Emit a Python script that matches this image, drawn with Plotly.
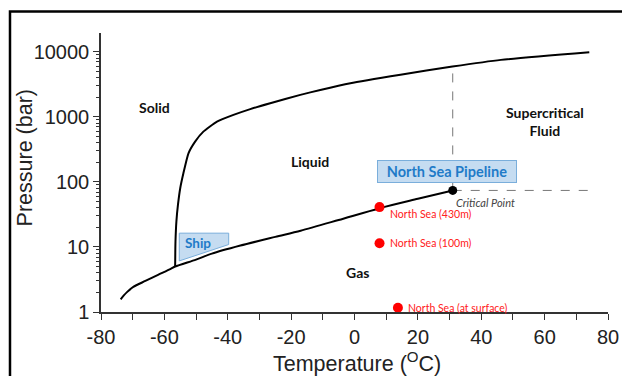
import numpy as np
import plotly.graph_objects as go

# ---- data ----
# sublimation + vaporization curve (T in °C, P in bar)
boil_T = [-73.8, -72.8, -71.8, -70.8, -69.8, -66, -62, -58, -56.6, -50, -45, -36, -25, -17, -5, 8, 20, 31]
boil_P = [1.57, 1.80, 2.02, 2.23, 2.43, 3.0, 3.72, 4.6, 5.0, 6.4, 7.9, 10.5, 14.3, 17.8, 26, 39.5, 55, 74]
# melting curve
melt_T = [-56.6, -56.5, -56.2, -55.7, -55.0, -54.0, -52.4, -50.3, -47.7, -43.4, -38.2, -32.9,
          -26.6, -17.1, -10.8, -1.3, 14.5, 30.9, 46.2, 74.1]
melt_P = [5.0, 12, 25, 45, 80, 136, 276, 417, 594, 847, 1073, 1318,
          1625, 2180, 2600, 3300, 4450, 5940, 7530, 9890]
crit_T, crit_P = 31, 74
crit_top_P = 5940
crit_right_T = 76
sea_names = ["North Sea (430m)", "North Sea (100m)", "North Sea (at surface)"]
sea_T = [7.9, 7.9, 13.7]
sea_P = [41, 11.4, 1.16]
ship_T = [-55.3, -39.7, -39.7, -55.3, -55.3]
ship_P = [16.3, 16.3, 10.9, 6.1, 16.3]
regions = ["Solid", "Liquid", "Supercritical<br>Fluid", "Gas"]
region_T = [-63.1, -14.2, 60.2, 0.95]
region_P = [1375, 203, 838, 4.0]
x_ticks = [-80, -60, -40, -20, 0, 20, 40, 60, 80]
y_ticks = [1, 10, 100, 1000, 10000]

AX = "#333333"
fig = go.Figure()

# ship polygon
fig.add_trace(go.Scatter(x=ship_T, y=ship_P, mode="lines", fill="toself",
                         fillcolor="#c5dcf1", line=dict(color="#7aaedb", width=1),
                         hoverinfo="skip", showlegend=False))
# dashed guides
fig.add_trace(go.Scatter(x=[crit_T, crit_T], y=[crit_P, crit_top_P], mode="lines",
                         line=dict(color="#777777", width=1, dash="dash"), showlegend=False))
fig.add_trace(go.Scatter(x=[crit_T, crit_right_T], y=[crit_P, crit_P], mode="lines",
                         line=dict(color="#777777", width=1, dash="dash"), showlegend=False))
# curves
fig.add_trace(go.Scatter(x=boil_T, y=boil_P, mode="lines",
                         line=dict(color="black", width=2, shape="spline", smoothing=0.8),
                         showlegend=False))
fig.add_trace(go.Scatter(x=melt_T, y=melt_P, mode="lines",
                         line=dict(color="black", width=2, shape="spline", smoothing=0.5),
                         showlegend=False))
# critical point
fig.add_trace(go.Scatter(x=[crit_T], y=[crit_P], mode="markers",
                         marker=dict(color="black", size=9), showlegend=False))
# North Sea points
fig.add_trace(go.Scatter(x=sea_T, y=sea_P, mode="markers",
                         marker=dict(color="#ff0000", size=10), showlegend=False))

LBL = "Lato"
for name, t, p, ys in zip(sea_names, sea_T, sea_P, [-7, 0, 0]):
    fig.add_annotation(x=t, y=np.log10(p), text=name, showarrow=False,
                       xanchor="left", yanchor="middle", xshift=8, yshift=ys,
                       font=dict(family=LBL, size=10.5, color="#ff2020"))
fig.add_annotation(x=crit_T, y=np.log10(crit_P), text="<i>Critical Point</i>", showarrow=False,
                   xanchor="left", yanchor="middle", xshift=1, yshift=-12,
                   font=dict(family=LBL, size=11, color="#444444"))
for name, t, p in zip(regions, region_T, region_P):
    fig.add_annotation(x=t, y=np.log10(p), text="<b>" + name + "</b>", showarrow=False,
                       font=dict(family=LBL, size=14, color="#111111"))
fig.add_annotation(x=29.1, y=np.log10(144), text="<b>North Sea Pipeline</b>", showarrow=False,
                   width=136, height=19, bgcolor="#c5dcf1", bordercolor="#7aaedb",
                   borderwidth=1, borderpad=1,
                   font=dict(family=LBL, size=14.5, color="#1f7bc8"))
fig.add_annotation(x=-49.5, y=np.log10(11.6), text="<b>Ship</b>", showarrow=False,
                   font=dict(family=LBL, size=13.5, color="#1f7bc8"))

# axis titles
fig.add_annotation(xref="paper", yref="paper", x=-0.15, y=0.554, text="Pressure (bar)",
                   textangle=-90, showarrow=False, xanchor="center", yanchor="middle",
                   font=dict(family="Liberation Sans, Arial", size=21.5, color="#222222"))
fig.add_annotation(xref="paper", yref="paper", x=0.505, y=-0.179,
                   text="Temperature (<sup>O</sup>C)",
                   showarrow=False, xanchor="center", yanchor="middle",
                   font=dict(family="Liberation Sans, Arial", size=21.5, color="#222222"))

# outer frame
fig.add_shape(type="path", xref="paper", yref="paper",
              path="M -0.1795,-0.3 L -0.1795,1.077 L 1.1,1.077",
              line=dict(color="black", width=2.5))

fig.update_layout(
    width=622, height=376,
    margin=dict(l=101, r=14, t=33, b=64),
    paper_bgcolor="white", plot_bgcolor="white",
    font=dict(family="Liberation Sans, Arial", color="#222222"),
)
fig.update_xaxes(range=[-80, 80], tickvals=x_ticks, ticktext=[str(v) for v in x_ticks],
                 ticks="outside", ticklen=6, automargin=False,
                 tickwidth=1.3, tickcolor=AX, showline=True, linecolor=AX, linewidth=1.5,
                 showgrid=False, zeroline=False, tickfont=dict(size=20),
                 minor=dict(ticks="outside", ticklen=6, tickwidth=1.3, tickcolor=AX, dtick=10))
fig.update_yaxes(type="log", range=[0, 4.29], tickvals=y_ticks, automargin=False,
                 ticktext=[str(v) for v in y_ticks], ticks="outside", ticklen=6,
                 tickwidth=1.3, tickcolor=AX, showline=True, linecolor=AX, linewidth=1.5,
                 showgrid=False, zeroline=False, tickfont=dict(size=20),
                 minor=dict(ticks="outside", ticklen=3, tickwidth=1, tickcolor=AX, dtick="D1"))

fig.write_html("out.html")
